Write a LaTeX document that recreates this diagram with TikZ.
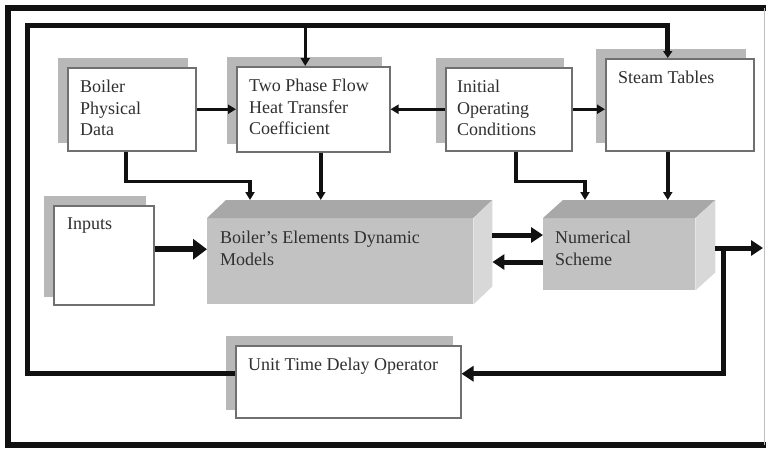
\documentclass[tikz,border=0pt]{standalone}
\usepackage{fontspec}
\setmainfont{Liberation Serif}
\usetikzlibrary{arrows.meta,calc,backgrounds}
\definecolor{boxc}{HTML}{707070}
\definecolor{shadowc}{HTML}{B8B8B8}
\definecolor{textc}{HTML}{303030}
\definecolor{frontc}{HTML}{C2C2C2}
\definecolor{topc}{HTML}{A8A8A8}
\definecolor{sidec}{HTML}{D8D8D8}
\definecolor{linec}{HTML}{111111}
\begin{document}
\begin{tikzpicture}[x=1pt,y=-1pt,
  wbox/.style={draw=boxc, line width=1.5pt, fill=white, inner sep=0pt, anchor=north west},
  face/.style={draw=none, fill=frontc, inner sep=0pt, anchor=north west},
  txt/.style={anchor=north west, inner sep=0pt, align=left, text=textc,
    font=\fontsize{18}{21.5}\selectfont},
  conn/.style={draw=linec, line width=3.5pt, -{Triangle[length=8pt,width=9pt]}},
  loopline/.style={draw=linec, line width=5pt},
  mid/.style={draw=linec, line width=5pt, -{Triangle[length=12pt,width=15pt]}},
  fat/.style={draw=linec, line width=6pt, -{Triangle[length=14pt,width=20pt]}}
]
\useasboundingbox (0,0) rectangle (766,450);

% outer frame
\draw[linec, line width=6pt] (766,8) -- (8,8) -- (8,445) -- (766,445);
\draw[gray!50, line width=1pt] (764,8) -- (764,445);

% plain boxes
\node[wbox, minimum width=128pt, minimum height=83pt] (boiler) at (67,67) {};
\node[wbox, minimum width=153pt, minimum height=85pt] (twophase) at (236,66) {};
\node[wbox, minimum width=126pt, minimum height=83pt] (initial) at (445,67) {};
\node[wbox, minimum width=148pt, minimum height=92pt] (steam) at (605,58) {};
\node[wbox, minimum width=100pt, minimum height=99pt] (inputs) at (53,205) {};
\node[wbox, minimum width=225pt, minimum height=72pt] (utd) at (235,345) {};

% shadows
\begin{scope}[on background layer]
  \fill[white] (0,0) rectangle (766,450);
  \foreach \b in {boiler,twophase,initial,steam,inputs,utd}
    \fill[shadowc] ($(\b.north west)+(-9,-9)$) rectangle ($(\b.south east)+(-9,-9)$);
\end{scope}

% 3D blocks
\node[face, minimum width=266pt, minimum height=86pt] (bedm) at (207,218) {};
\fill[topc] (bedm.north west) -- (bedm.north east) -- ++(19,-18)
  -- ($(bedm.north west)+(19,-18)$) -- cycle;
\fill[sidec] (bedm.north east) -- ++(19,-18) -- ($(bedm.south east)+(19,-18)$)
  -- (bedm.south east) -- cycle;
\node[face, minimum width=152pt, minimum height=72pt] (num) at (543,218) {};
\fill[topc] (num.north west) -- (num.north east) -- ++(20,-18)
  -- ($(num.north west)+(20,-18)$) -- cycle;
\fill[sidec] (num.north east) -- ++(20,-18) -- ($(num.south east)+(20,-18)$)
  -- (num.south east) -- cycle;

% texts
\node[txt] (tboiler) at ($(boiler.north west)+(13,13)$) {Boiler\\Physical\\Data};
\node[txt] (ttwo) at ($(twophase.north west)+(13,13)$) {Two Phase Flow\\Heat Transfer\\Coefficient};
\node[txt] (tinit) at ($(initial.north west)+(12,13)$) {Initial\\Operating\\Conditions};
\node[txt] (tsteam) at ($(steam.north west)+(13,13)$) {Steam Tables};
\node[txt] (tinputs) at ($(inputs.north west)+(14,13)$) {Inputs};
\node[txt] (tbedm) at ($(bedm.north west)+(13,13)$) {Boiler's Elements Dynamic\\Models};
\node[txt] (tnum) at ($(num.north west)+(12,13)$) {Numerical\\Scheme};
\node[txt] (tutd) at ($(utd.north west)+(13,13)$) {Unit Time Delay Operator};

% helper coordinates
\coordinate (lt) at (27,25);
\coordinate (tpin) at ($(twophase.north)+(-8,0)$);
\coordinate (stin) at ($(steam.north)+(-12,0)$);
\coordinate (bpo) at ($(boiler.south)+(-6,0)$);
\coordinate (tpo) at ($(twophase.south)+(7.5,0)$);
\coordinate (ino) at ($(initial.south)+(7,0)$);
\coordinate (sto) at ($(steam.south)+(-12,0)$);
\coordinate (bedmA) at ($(bedm.north west)+(43,-18)$);
\coordinate (numA) at ($(num.north west)+(42,-18)$);
\coordinate (inp) at ([yshift=6pt]inputs.east);
\coordinate (bR1) at ($(bedm.north east)+(19,17)$);
\coordinate (nL2) at ($(num.north west)+(0,44)$);
\coordinate (nR) at ($(num.north east)+(20,30)$);
\coordinate (nRb) at ($(nR)+(8,0)$);
\coordinate (outE) at (763,248);
\coordinate (ue) at ([yshift=8pt]utd.east);
\coordinate (uw) at ([yshift=8pt]utd.west);

% feedback loop
\draw[loopline, -{Triangle[length=7pt,width=9pt]}] (uw) -| (lt) -| (stin);
\draw[conn] (tpin |- lt) -- (tpin);

% top row connectors
\draw[conn] (boiler.east) -- (twophase.west);
\draw[conn] (initial.west) -- (twophase.east);
\draw[conn, line width=3pt] (initial.east) -- (initial.east -| steam.west);

% downward connectors
\draw[conn] (bpo) -- ++(0,30) -| (bedmA);
\draw[conn] (tpo) -- (tpo |- bedmA);
\draw[conn] (ino) -- ++(0,30) -| (numA);
\draw[conn] (sto) -- (sto |- numA);

% middle row
\draw[fat] (inp) -- (inp -| bedm.west);
\draw[mid] (bR1) -- (bR1 -| num.west);
\draw[mid] (nL2) -- (nL2 -| bR1);
\draw[mid] (nR) -- (outE);
\draw[mid] (nRb) |- (ue);
\end{tikzpicture}
\end{document}
